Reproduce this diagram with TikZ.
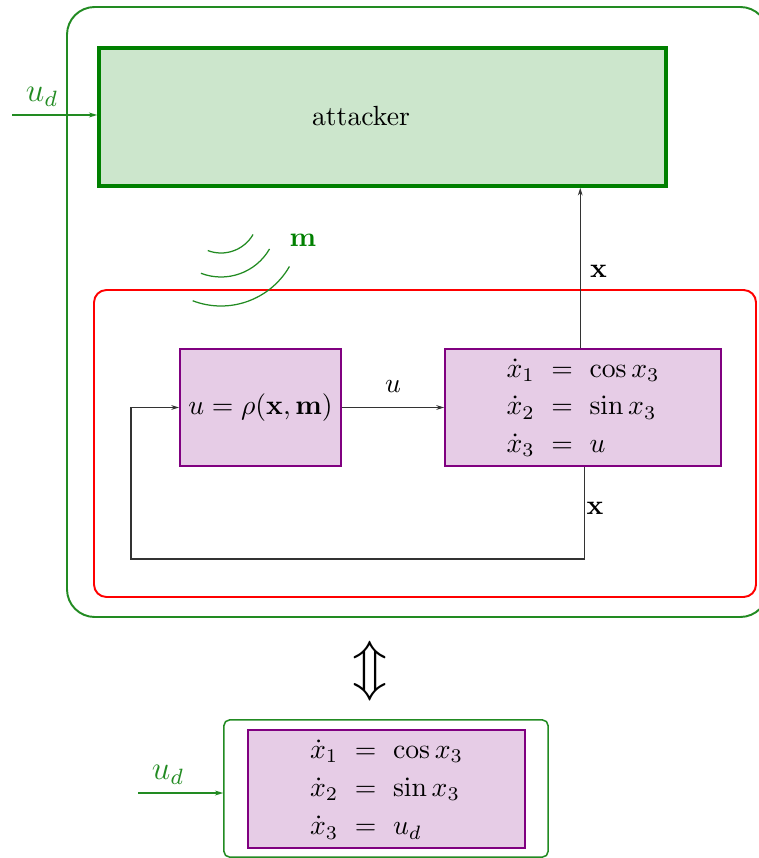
\documentclass[tikz,border=0pt]{standalone}
\usetikzlibrary{arrows.meta}
\definecolor{dgreen}{RGB}{0,128,0}
\definecolor{fgreen}{RGB}{34,139,34}
\definecolor{dpurple}{RGB}{128,0,128}
\begin{document}
\begin{tikzpicture}[x=0.361pt,y=-0.361pt,
  blockbox/.style={draw=dpurple, fill=dpurple!20, line width=0.7pt, inner sep=0pt},
  attackbox/.style={draw=dgreen, fill=dgreen!20, line width=1.3pt, inner sep=0pt},
  sig/.style={draw=black!80, line width=0.4pt, -{Stealth[length=2.8pt,width=1.7pt]}},
  insig/.style={draw=fgreen, line width=0.4pt, -{Stealth[length=3pt,width=1.8pt]}},
  wave/.style={draw=fgreen, line width=0.45pt}]
\useasboundingbox (0,0) rectangle (758,858);

% outer container and closed loop frame
\draw[fgreen, line width=0.7pt, rounded corners=10pt] (67,7) rectangle (768,617);
\draw[red, line width=0.7pt, rounded corners=4.5pt] (94,290) rectangle (756,597);

% attacker
\node[attackbox, minimum width=204.7pt, minimum height=49.8pt] (attacker) at (382.5,117) {};
\node (atklabel) at (361,116) {attacker};

% controller and plant
\node[blockbox, minimum width=58.1pt, minimum height=42.2pt] (ctrl) at (260.5,407.5)
  {$u=\rho(\mathbf{x},\mathbf{m})$};
\node[blockbox, minimum width=99.6pt, minimum height=42.2pt] (plant) at (583,407.5)
  {\arraycolsep=3pt\def\arraystretch{1.12}$\begin{array}{rcl}
    \dot x_1 & = & \cos x_3\\
    \dot x_2 & = & \sin x_3\\
    \dot x_3 & = & u
  \end{array}$};

% attacker input
\coordinate (udin) at (12,115);
\draw[insig] (udin) -- (attacker.west |- udin);
\node[text=fgreen, font=\large] (udlabel) at (42,97) {$u_d$};

% wireless message
\coordinate (wavec) at (221,220);
\draw[wave] ([shift={(0,-4)}]wavec) ++(30:37) arc[start angle=30, end angle=111, radius=37];
\draw[wave] ([shift={(0,1)}]wavec) ++(30:56) arc[start angle=30, end angle=111, radius=56];
\draw[wave] ([shift={(0,7)}]wavec) ++(30:79) arc[start angle=30, end angle=111, radius=79];
\node[text=dgreen] (mlabel) at (303,240) {$\mathbf{m}$};

% signals
\draw[sig] ([xshift=-1pt]plant.north) -- ([xshift=-1pt]plant.north |- attacker.south)
  node[pos=0.48, right, black] {$\mathbf{x}$};
\draw[sig] (ctrl.east) -- (plant.west) node[midway, above=2pt, black] {$u$};
\coordinate (fbcorner) at (131,559);
\draw[sig] ([xshift=0.4pt]plant.south) |- (fbcorner) |- (ctrl.west);
\node (fblabel) at (595,508) {$\mathbf{x}$};

% equivalence
\node (equiv) at (370,671) {\huge$\Updownarrow$};

% equivalent system
\node[draw=fgreen, line width=0.55pt, rounded corners=2pt, minimum width=117pt,
  minimum height=49.5pt, inner sep=0pt] (outer2) at (386,788.5) {};
\node[blockbox, minimum width=100pt, minimum height=42.6pt] (plant2) at (386.5,789)
  {\arraycolsep=3pt\def\arraystretch{1.15}$\begin{array}{rcl}
    \dot x_1 & = & \cos x_3\\
    \dot x_2 & = & \sin x_3\\
    \dot x_3 & = & u_d
  \end{array}$};
\coordinate (udin2) at (138,793);
\draw[insig] (udin2) -- (outer2.west |- udin2);
\node[text=fgreen, font=\large] (udlabel2) at (168,775) {$u_d$};
\end{tikzpicture}
\end{document}
